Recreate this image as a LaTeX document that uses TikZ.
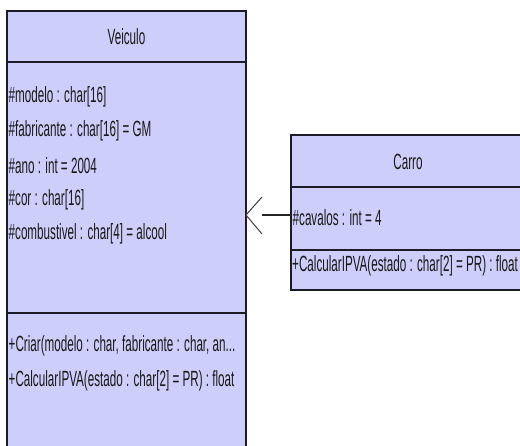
\documentclass[tikz,border=0pt]{standalone}
\usepackage{fontspec}
\setmainfont[FakeStretch=0.53]{Liberation Sans}
\definecolor{umlfill}{RGB}{206,206,250}
\definecolor{umlline}{RGB}{28,28,40}
\tikzset{
  classbox/.style={fill=umlfill, draw=umlline, line width=1.1pt, inner sep=0pt, outer sep=0pt, anchor=north west},
  sepline/.style={draw=umlline, line width=2.4pt},
  topline/.style={draw=umlline, line width=2pt},
  member/.style={anchor=west, inner sep=0pt, font=\fontsize{22}{24}\selectfont, text=black!90},
  title/.style={inner sep=0pt, font=\fontsize{22}{24}\selectfont, text=black!90},
  gen/.style={draw=black!85, line width=1.6pt},
  genhead/.style={draw=black!75, line width=1pt}
}
\begin{document}
\begin{tikzpicture}[x=1pt,y=-1pt]
\useasboundingbox (0,0) rectangle (520,446);
\clip (0,0) rectangle (520,446);
\fill[white] (0,0) rectangle (520,446);
% Veiculo class
\node[classbox, minimum width=239pt, minimum height=450pt] (veiculo) at (7,11) {};
\draw[topline] (veiculo.north west) -- (veiculo.north east);
\draw[sepline] (7,62) -- (246,62);
\draw[sepline] (7,313) -- (246,313);
\node[title] (vtitle) at (126.5,37) {Veiculo};
\node[member] (a1) at (8.5,97) {\#modelo : char[16]};
\node[member] (a2) at (8.5,131) {\#fabricante : char[16] = GM};
\node[member] (a3) at (8.5,166) {\#ano : int = 2004};
\node[member] (a4) at (8.5,200) {\#cor : char[16]};
\node[member] (a5) at (8.5,234) {\#combustivel : char[4] = alcool};
\node[member] (m1) at (8.5,346) {+Criar(modelo : char, fabricante : char, an...};
\node[member] (m2) at (8.5,381) {+CalcularIPVA(estado : char[2] = PR) : float};
% Carro class
\node[classbox, minimum width=234pt, minimum height=155pt] (carro) at (291,135) {};
\draw[topline] (carro.north west) -- (carro.north east);
\draw[sepline] (291,187) -- (525,187);
\draw[sepline] (291,250) -- (525,250);
\node[title] (ctitle) at (408,162) {Carro};
\node[member] (c1) at (292.5,218) {\#cavalos : int = 4};
\node[member] (c2) at (292,266) {+CalcularIPVA(estado : char[2] = PR) : float};
% generalization
\coordinate (tip) at (veiculo.east |- 0,215);
\coordinate (back) at (262,215);
\coordinate (up) at (262,197);
\coordinate (down) at (262,234);
\draw[gen] (carro.west |- tip) -- (back);
\draw[genhead] (up) -- (tip) -- (down);
\end{tikzpicture}
\end{document}
